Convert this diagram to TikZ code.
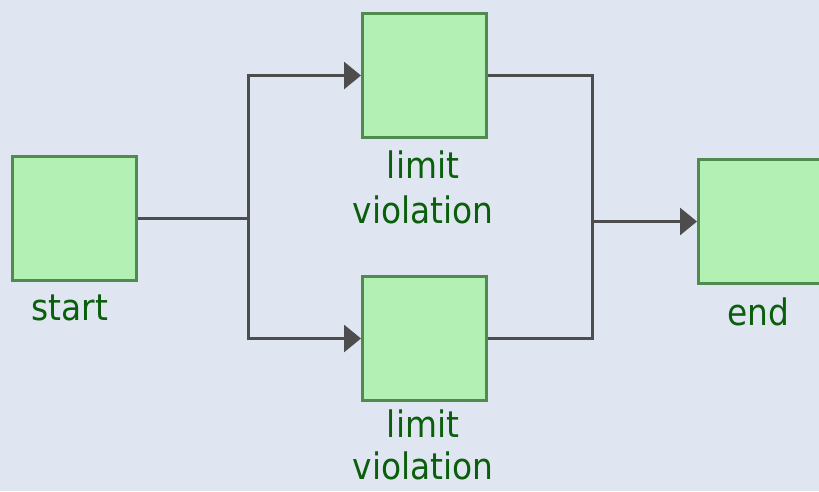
\documentclass[tikz,border=0pt]{standalone}
\usepackage{fontspec}
\setmainfont{DejaVu Sans Condensed}
\usetikzlibrary{arrows.meta}
\definecolor{bgcol}{HTML}{DFE6F1}
\definecolor{boxfill}{HTML}{B3F0B3}
\definecolor{boxline}{HTML}{4F8A4F}
\definecolor{wirecol}{HTML}{4D4D4D}
\definecolor{labelcol}{HTML}{0B5E0B}
\tikzset{
  stepbox/.style={draw=boxline, fill=boxfill, line width=3pt,
    minimum width=124pt, minimum height=124pt, inner sep=0pt},
  caption/.style={text=labelcol, font=\fontsize{36.5}{45}\selectfont,
    align=center, inner sep=0pt, text depth=0pt},
  tightcaption/.style={caption, font=\fontsize{36.5}{42}\selectfont},
  wire/.style={draw=wirecol, line width=3pt},
  flow/.style={wire, -{Triangle[length=17pt,width=27pt]}},
}
\begin{document}
\begin{tikzpicture}[x=1pt, y=-1pt]
  \fill[bgcol] (0,0) rectangle (819,491);
  \useasboundingbox (0,0) rectangle (819,491);

  % blocks
  \node[stepbox] (start) at (74.5,218.5) {};
  \node[stepbox] (upper) at (424.5,75.5) {};
  \node[stepbox] (lower) at (424.5,338.5) {};
  \node[stepbox] (end)   at (760.5,221.5) {};

  % captions under the blocks
  \node[caption, anchor=base]  (startlbl) at (70,320) {start};
  \node[caption, anchor=north] (upperlbl) at (423,151) {limit\\violation};
  \node[tightcaption, anchor=north] (lowerlbl) at (423,410) {limit\\violation};
  \node[caption, anchor=base]  (endlbl)   at (758,325) {end};

  % split and join points
  \coordinate (split) at (248,0);
  \coordinate (join) at (592,0);

  % fan out from start
  \draw[wire] (start.east) -- (start.east -| split);
  \draw[flow] (start.east -| split) |- (upper.west);
  \draw[flow] (start.east -| split) |- (lower.west);

  % fan in to end
  \draw[wire] (upper.east) -| (join |- end.west);
  \draw[wire] (lower.east) -| (join |- end.west);
  \draw[flow] (join |- end.west) -- (end.west);
\end{tikzpicture}
\end{document}
